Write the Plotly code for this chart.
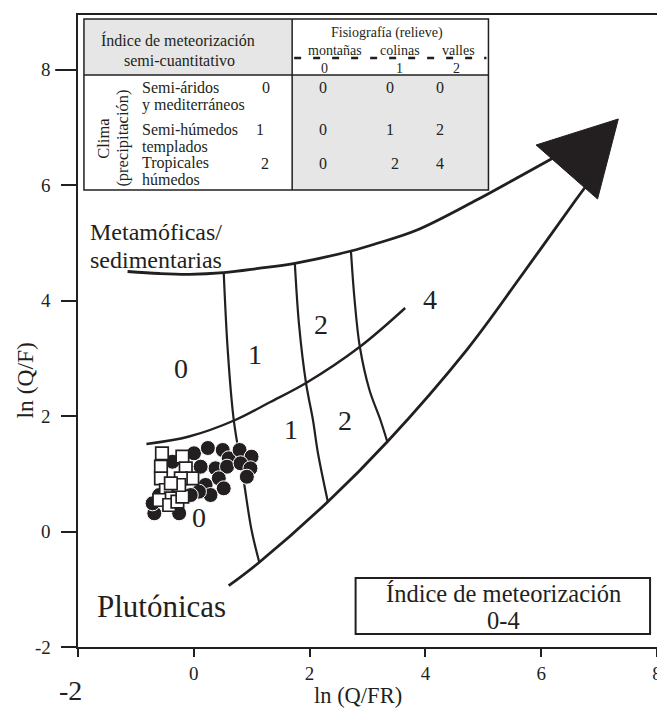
import plotly.graph_objects as go

# ---------------- data (in axis units) ----------------
upper_x = [-1.144, -0.596, -0.082, 0.517, 1.116, 1.745, 2.714, 3.171, 3.856, 4.884, 5.620, 6.197]
upper_y = [4.508, 4.473, 4.459, 4.487, 4.560, 4.650, 4.863, 4.997, 5.227, 5.747, 6.151, 6.470]

lower_x = [0.603, 1.116, 2.315, 3.342, 4.712, 5.654, 6.596, 6.801]
lower_y = [-0.938, -0.544, 0.518, 1.558, 3.147, 4.430, 5.747, 6.024]

mid_x = [-0.818, -0.082, 0.717, 1.322, 1.938, 2.863, 3.651]
mid_y = [1.518, 1.648, 1.934, 2.246, 2.575, 3.199, 3.875]

lineA_x = [0.517, 0.586, 0.688, 0.860, 0.997, 1.134]
lineA_y = [4.487, 3.147, 1.951, 0.894, 0.028, -0.544]

lineB_x = [1.745, 1.818, 1.938, 2.058, 2.144, 2.315]
lineB_y = [4.650, 3.581, 2.575, 1.934, 1.362, 0.518]

lineC_x = [2.714, 2.777, 2.868, 3.034, 3.223, 3.342]
lineC_y = [4.863, 4.014, 3.199, 2.454, 1.934, 1.558]

arrow_x = [5.911, 7.332, 6.973, 5.911]
arrow_y = [6.700, 7.151, 5.764, 6.700]

circ_x = [-0.682, -0.253, -0.368, 0.003, 0.243, 0.500, 0.603, 0.375, 0.574, 0.432,
          0.204, 0.517, 0.289, 0.089, -0.053, 0.791, 0.997, 0.808, 0.979, 0.916,
          -0.082, 0.118, -0.596, -0.711]
circ_y = [0.317, 0.317, 1.211, 1.357, 1.449, 1.414, 1.270, 1.097, 1.125, 0.924,
          0.808, 0.750, 0.634, 0.692, 0.634, 1.414, 1.298, 1.184, 1.097, 0.951,
          0.924, 1.125, 0.634, 0.490]

sq_x = [-0.550, -0.567, -0.567, -0.197, -0.139, -0.026, -0.224, -0.283, -0.481, -0.396,
        -0.596, -0.425, -0.283, -0.197, -0.253, -0.396]
sq_y = [1.357, 1.125, 0.924, 1.298, 1.097, 0.924, 0.924, 0.721, 0.721, 0.577,
        0.548, 0.461, 0.518, 0.605, 0.808, 0.837]

region_labels = ["0", "1", "2", "4", "1", "2", "0"]
region_x = [-0.219, 1.065, 2.195, 4.079, 1.682, 2.606, 0.089]
region_y = [2.835, 3.061, 3.581, 4.014, 1.761, 1.934, 0.253]

x_tickvals = [-2, 0, 2, 4, 6, 8]
x_ticktext = ["", "0", "2", "4", "6", "8"]
y_tickvals = [-2, 0, 2, 4, 6, 8]
y_ticktext = ["-2", "0", "2", "4", "6", "8"]

# table content
relief_names = ["montañas", "colinas", "valles"]
relief_codes = ["0", "1", "2"]
climate_line1 = ["Semi-áridos", "Semi-húmedos", "Tropicales"]
climate_line2 = ["y mediterráneos", "templados", "húmedos"]
climate_codes = ["0", "1", "2"]
index_grid = [["0", "0", "0"], ["0", "1", "2"], ["0", "2", "4"]]

# ---------------- styling / layout helpers ----------------
INK = "#231f20"
FONT = "Liberation Serif"
BODY = 8                      # default page margin of the html body
L, T, W, H = 78, 15, 584, 632  # plot area in window pixels


def fx(px):
    return (px - L) / W


def fy(py):
    return (T + H - py) / H


fig = go.Figure()

for xs, ys, w in [(upper_x, upper_y, 2.8), (lower_x, lower_y, 2.8), (mid_x, mid_y, 2.4),
                  (lineA_x, lineA_y, 2.2), (lineB_x, lineB_y, 2.2), (lineC_x, lineC_y, 2.2)]:
    fig.add_trace(go.Scatter(x=xs, y=ys, mode="lines",
                             line=dict(color=INK, width=w, shape="spline", smoothing=1.0),
                             hoverinfo="skip", showlegend=False))

fig.add_trace(go.Scatter(x=arrow_x, y=arrow_y, mode="lines", fill="toself",
                         fillcolor=INK, line=dict(color=INK, width=1),
                         hoverinfo="skip", showlegend=False))

fig.add_trace(go.Scatter(x=circ_x, y=circ_y, mode="markers",
                         marker=dict(symbol="circle", size=15, color=INK,
                                     line=dict(color="white", width=1)),
                         showlegend=False))
fig.add_trace(go.Scatter(x=sq_x, y=sq_y, mode="markers",
                         marker=dict(symbol="square", size=12.5, color="white",
                                     line=dict(color=INK, width=1.7)),
                         showlegend=False))

shapes = []
annotations = []


def txt(s, px, py, size, xanchor="center", angle=0):
    annotations.append(dict(text=s, x=fx(px), y=fy(py), xref="paper", yref="paper",
                            xanchor=xanchor, yanchor="middle", showarrow=False,
                            textangle=angle, font=dict(family=FONT, size=size, color=INK)))


# table
GRAY = "#e6e6e6"
shapes.append(dict(type="rect", xref="paper", yref="paper", x0=fx(84), x1=fx(294),
                   y0=fy(75), y1=fy(19), fillcolor=GRAY, line=dict(width=0), layer="above"))
shapes.append(dict(type="rect", xref="paper", yref="paper", x0=fx(294), x1=fx(492),
                   y0=fy(190), y1=fy(75), fillcolor=GRAY, line=dict(width=0), layer="above"))
shapes.append(dict(type="rect", xref="paper", yref="paper", x0=fx(84), x1=fx(492),
                   y0=fy(190), y1=fy(19), line=dict(color=INK, width=1.5), layer="above"))
shapes.append(dict(type="line", xref="paper", yref="paper", x0=fx(84), x1=fx(492),
                   y0=fy(75), y1=fy(75), line=dict(color=INK, width=1.5), layer="above"))
shapes.append(dict(type="line", xref="paper", yref="paper", x0=fx(294), x1=fx(294),
                   y0=fy(190), y1=fy(19), line=dict(color=INK, width=1.5), layer="above"))
shapes.append(dict(type="line", xref="paper", yref="paper", x0=fx(296), x1=fx(490),
                   y0=fy(58), y1=fy(58), line=dict(color=INK, width=2.5, dash="7px,12px"),
                   layer="above"))

txt("Índice de meteorización", 179, 40, 16)
txt("semi-cuantitativo", 180, 60, 16)
txt("Fisiografía (relieve)", 390, 33, 14)
for name, code, cx, ccx in zip(relief_names, relief_codes, [337, 403, 462], [327, 402, 460]):
    txt(name, cx, 51, 14)
    txt(code, ccx, 68, 14)

row_y = [87, 130, 163]
row_y2 = [105.5, 147, 179]
for l1, l2, code, ry, ry2, cxc in zip(climate_line1, climate_line2, climate_codes,
                                        row_y, row_y2, [268, 262, 267]):
    txt(l1, 141, ry, 16, xanchor="left")
    txt(l2, 141, ry2, 16, xanchor="left")
    txt(code, cxc, ry, 16)
col_x = [[325, 393, 443], [325, 393, 443], [325, 398, 443]]
for r, ry in enumerate(row_y):
    for c in range(3):
        txt(index_grid[r][c], col_x[r][c], ry, 16)
txt("Clima", 103, 138, 16.5, angle=-90)
txt("(precipitación)", 122, 138, 16.5, angle=-90)

# index box
shapes.append(dict(type="rect", xref="paper", yref="paper", x0=fx(358), x1=fx(655),
                   y0=fy(634), y1=fy(578), fillcolor="white",
                   line=dict(color=INK, width=2), layer="above"))
txt("Índice de meteorización", 507, 593, 24.5)
txt("0-4", 507, 620, 24.5)

# rock type labels
txt("Metamóficas/", 88, 232, 24, xanchor="left")
txt("sedimentarias", 88, 260, 24, xanchor="left")
txt("Plutónicas", 95, 606, 31, xanchor="left")

# region labels (in data coords)
for s, xv, yv in zip(region_labels, region_x, region_y):
    annotations.append(dict(text=s, x=xv, y=yv, xref="x", yref="y", showarrow=False,
                            xanchor="center", yanchor="middle",
                            font=dict(family=FONT, size=28, color=INK)))

# y tick labels (right aligned, away from the axis)
for v, s in zip(y_tickvals, y_ticktext):
    annotations.append(dict(text=s, x=fx(53), y=v, xref="paper", yref="y",
                            xanchor="right", yanchor="middle", showarrow=False,
                            font=dict(family=FONT, size=19, color=INK)))

# axis titles and the big -2
txt("ln (Q/FR)", 360, 695, 22.5)
txt("ln (Q/F)", 25, 380, 23.5, angle=-90)
txt("-2", 70, 690, 28)

# longer tick at y=8
shapes.append(dict(type="line", xref="paper", yref="y", x0=fx(55), x1=fx(78),
                   y0=8, y1=8, line=dict(color=INK, width=2)))

fig.update_layout(
    width=665 - BODY, height=715 - BODY, autosize=False,
    margin=dict(l=L - BODY, r=665 - L - W, t=T - BODY, b=715 - T - H),
    paper_bgcolor="white", plot_bgcolor="white",
    shapes=shapes, annotations=annotations,
    xaxis=dict(range=[-2, 8], showgrid=False, zeroline=False, showline=True,
               linecolor=INK, linewidth=2.2, mirror=True, ticks="outside",
               ticklen=8, tickwidth=2, tickcolor=INK, tickvals=x_tickvals,
               ticktext=x_ticktext, tickfont=dict(family=FONT, size=19, color=INK)),
    yaxis=dict(range=[-2, 8.953], showgrid=False, zeroline=False, showline=True,
               linecolor=INK, linewidth=2.2, mirror=True, ticks="outside",
               ticklen=15, tickwidth=2, tickcolor=INK, tickvals=y_tickvals,
               ticktext=[""] * len(y_tickvals)),
)

fig.write_html("out.html")
